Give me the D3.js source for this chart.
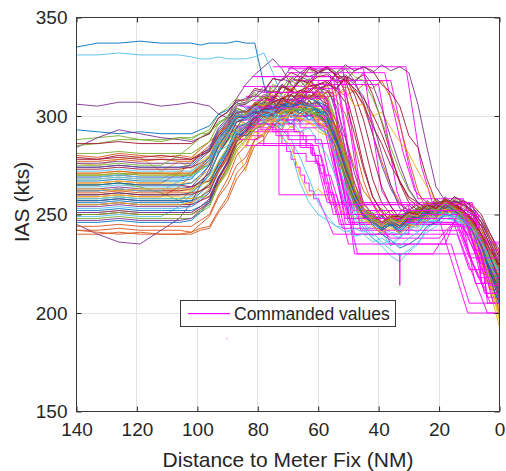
<!DOCTYPE html>
<html>
<head>
<meta charset="utf-8">
<script src="https://cdn.jsdelivr.net/npm/d3@7"></script>
<style>
  body { margin: 0; background: #fff; }
  svg { display: block; }
  text { font-family: "Liberation Sans", Arial, Helvetica, sans-serif; fill: #262626; }
</style>
</head>
<body>
<svg id="chart" width="506" height="471"></svg>
<script>
// Sample distances (NM to meter fix) shared by every recorded flight
const distances = [140,133,126,119,112,106,102,99,96,93,90,87,84,81,78,75,72,69,66,63,60,57,54,51,48,45,42,39,36,33,30,27,24,21,18,15,12,9,6,3,0];

// Recorded IAS (kts) per flight, one value per entry of `distances`
const flights = [
  [335,337,337,338,337,337, 337,336,337,337,337,338,337, 337,316,302,298,305,301,308,300, 303,286,268,255,248,251,246,249, 246,249,252,251,254,255,256,252, 246,236,222,212],
  [280,279,281,280,279,280, 279,283,287,290,298,302,299, 302,306,300,305,301,308,303,307, 300,294,289,274,262,256,249,252, 247,252,249,255,251,257,253,250, 246,238,228,218],
  [276,275,278,279,272,277, 273,277,280,284,287,294,290, 296,299,301,303,304,303,301,298, 292,278,262,253,247,250,243,247, 249,246,252,249,255,252,253,247, 243,232,218,202],
  [306,305,307,307,305,306, 307,306,305,301,299,309,316, 321,325,329,324,316,311,318,314, 316,301,283,266,253,249,246,250, 247,253,249,256,252,258,253,250, 244,237,225,213],
  [288,289,290,288,288,289, 288,291,293,301,304,309,306, 312,307,313,308,316,311,319,313, 309,297,279,263,253,250,253,248, 250,251,253,255,256,257,256,252, 248,242,231,221],
  [331,331,332,331,331,331, 330,329,329,330,329,329,329, 330,332,322,309,303,299,302,295, 293,279,263,251,245,239,241,234, 238,243,249,246,253,249,251,247, 242,231,219,207],
  [273,273,274,273,273,273, 274,276,279,282,290,294,301, 306,303,310,307,313,310,316,314, 315,322,318,305,287,268,256,250, 249,246,252,249,256,253,257,251, 247,240,227,214],
  [293,292,291,292,291,291, 291,293,295,301,303,307,304, 305,307,306,304,305,307,306,303, 301,287,271,257,251,246,249,245, 250,247,254,251,257,253,255,250, 246,238,228,218],
  [277,277,278,277,278,277, 277,280,282,289,292,299,296, 299,304,300,305,301,307,303,306, 303,291,273,259,252,247,250,244, 247,249,251,253,254,253,252,249, 245,236,226,216],
  [268,268,269,268,268,272, 278,284,287,292,294,299,295, 304,299,303,298,306,301,307,300, 297,287,271,259,250,249,245,248, 249,246,252,248,254,250,252,246, 240,227,213,199],
  [284,289,293,291,289,288, 287,289,291,299,302,307,309, 310,315,309,316,312,318,313,316, 307,291,273,259,251,247,250,245, 251,255,250,257,253,259,255,251, 244,233,221,211],
  [285,286,288,288,287,289, 289,291,291,297,299,304,301, 303,305,307,308,307,305,303,300, 297,283,267,255,248,250,245,249, 250,247,253,250,256,251,253,248, 245,238,230,224],
  [272,272,273,272,272,272, 272,275,279,290,296,302,298, 303,297,301,294,302,297,301,295, 291,277,261,251,243,238,234,229, 226,231,235,243,246,250,247,246, 242,234,226,219],
  [279,278,280,279,280,279, 278,281,283,291,296,304,302, 305,310,307,315,312,319,316,322, 324,321,312,295,275,259,252,246, 248,249,251,254,256,257,255,251, 246,236,223,211],
  [274,274,275,274,274,274, 275,279,283,293,298,303,300, 306,301,308,302,309,304,311,306, 303,287,269,257,251,247,243,246, 243,248,245,252,249,255,251,249, 243,232,220,210],
  [266,266,267,266,266,271, 276,281,285,290,293,297,299, 303,305,307,306,308,309,310,311, 309,314,310,313,305,291,277,265, 256,252,255,251,257,253,257,254, 250,242,232,222],
  [262,262,263,262,262,262, 262,265,267,276,282,291,294, 297,301,295,299,294,299,296,300, 294,283,269,257,249,246,242,245, 246,243,250,247,252,249,251,246, 243,234,224,214],
  [269,269,270,269,269,269, 270,274,279,289,294,301,299, 305,302,309,305,311,307,314,310, 317,313,320,316,310,297,281,265, 253,250,250,252,254,255,255,253, 250,244,234,224],
  [270,270,270,271,271,270, 270,273,275,284,290,299,300, 304,306,307,309,310,311,310,307, 300,285,267,255,250,246,249,244, 250,247,254,251,258,254,256,250, 244,233,221,210],
  [264,264,265,264,264,264, 264,267,271,282,289,298,299, 301,305,302,308,304,310,305,308, 304,291,273,259,251,246,242,240, 238,243,241,247,245,250,247,246, 242,236,228,222],
  [265,265,266,265,265,265, 264,266,267,275,281,291,295, 302,299,307,303,311,306,313,309, 306,293,275,261,252,249,245,249, 249,246,253,250,256,253,257,251, 246,236,222,208],
  [267,267,268,267,267,267, 268,273,278,288,294,301,300, 303,305,304,305,307,309,309,307, 305,293,275,259,250,246,242,245, 240,246,244,251,248,254,250,248, 242,232,222,214],
  [259,259,260,259,259,264, 270,275,279,284,288,292,295, 299,303,300,305,302,307,305,309, 312,308,301,285,267,255,249,245, 246,243,249,247,253,250,254,251, 247,240,230,220],
  [251,251,252,251,251,251, 251,254,257,267,275,286,289, 297,292,296,290,295,291,297,292, 290,281,267,256,248,244,240,243, 241,243,245,247,249,250,249,246, 241,230,214,196],
  [263,263,264,263,263,263, 264,269,275,287,293,301,303, 306,311,309,316,313,320,318,322, 324,321,324,318,307,291,275,263, 255,252,256,253,258,254,259,257, 254,248,240,232],
  [265,265,266,264,261,257, 262,267,271,281,287,295,296, 299,300,301,302,303,303,302,300, 298,287,271,258,250,247,243,246, 247,244,250,248,254,251,253,248, 246,240,232,226],
  [255,255,256,255,255,255, 255,258,261,271,279,289,292, 299,296,303,300,305,301,306,302, 300,291,275,261,251,247,243,246, 241,245,246,252,249,254,250,248, 243,236,226,218],
  [257,257,258,257,257,257, 256,259,262,272,279,289,292, 297,302,300,306,304,310,309,313, 316,314,320,318,321,311,297,281, 266,256,252,249,254,251,257,255, 252,246,238,228],
  [260,260,261,260,260,260, 261,265,270,281,288,297,298, 301,303,305,306,306,305,304,302, 300,288,273,259,251,247,243,247, 248,245,252,249,255,251,253,247, 241,230,216,205],
  [242,242,243,242,242,242, 241,243,244,252,259,271,276, 288,291,298,295,304,301,308,303, 304,294,279,263,253,248,244,248, 245,251,249,255,252,257,254,251, 245,236,224,212],
  [271,271,272,271,271,271, 271,275,280,291,295,283,272, 289,295,301,296,302,298,306,301, 298,289,272,259,250,247,243,247, 244,250,248,254,251,255,252,249, 244,236,226,216],
  [254,254,255,254,254,254, 254,257,261,273,281,292,295, 299,304,300,307,303,309,305,307, 300,289,272,259,250,247,243,247, 246,248,251,253,255,255,253,250, 244,234,222,210],
  [258,258,259,258,258,258, 258,262,266,277,284,293,295, 299,301,302,302,303,303,304,303, 300,289,273,259,251,247,244,247, 245,250,248,254,251,255,252,249, 244,236,226,218],
  [249,249,250,249,249,254, 260,266,270,276,283,291,294, 300,297,303,298,302,299,306,305, 304,293,277,261,250,246,243,241, 240,244,243,248,246,251,248,247, 243,236,228,221],
  [250,250,251,250,250,250, 250,253,256,266,274,285,289, 295,300,298,304,301,305,300,302, 296,288,273,261,252,248,244,248, 247,250,252,254,256,256,254,250, 244,233,220,206],
  [256,256,257,256,256,256, 257,261,265,276,284,294,296, 299,300,301,302,302,303,302,300, 296,285,268,257,249,245,240,237, 233,235,238,244,246,250,249,247, 242,234,224,216],
  [240,240,241,240,240,240, 241,245,249,259,265,275,279, 288,290,297,298,303,300,304,299, 296,287,272,260,251,248,244,247, 247,244,251,248,254,250,254,249, 244,235,222,208],
  [266,266,267,266,266,266, 266,269,273,284,291,299,300, 305,299,297,289,285,270,259,263, 258,255,250,249,246,247,244,246, 245,250,249,254,252,256,253,250, 245,238,228,218],
  [245,240,236,235,242,248, 256,265,273,285,291,299,300, 302,307,304,309,306,311,308,310, 304,293,277,261,251,247,243,246, 243,248,247,253,251,255,252,249, 243,234,224,214],
  [248,248,249,248,248,248, 248,251,254,265,273,285,289, 296,298,300,302,303,303,302,300, 296,287,272,259,251,248,244,247, 247,249,251,253,255,255,253,250, 245,238,230,224],
  [268,268,269,268,268,268, 269,273,278,289,295,302,302, 306,301,297,293,288,279,268,256, 249,244,243,239,240,236,238,235, 239,241,247,246,252,249,251,246, 242,236,228,222],
  [262,262,263,262,262,262, 263,267,271,281,288,297,299, 306,306,313,311,319,318,324,322, 325,320,318,323,325,323,316,312, 305,290,284,268,256,252,254,257, 255,250,240,230],
  [252,252,253,252,252,252, 252,254,257,268,276,287,291, 296,301,299,304,299,303,300,303, 298,287,271,258,249,246,242,245, 241,246,246,252,249,255,251,249, 244,236,226,216],
  [242,241,240,241,240,240, 240,242,243,251,257,268,274, 285,288,296,293,302,297,302,296, 294,285,269,257,249,246,242,245, 243,248,247,253,250,254,251,248, 242,232,218,200],
  [270,270,271,270,270,270, 270,273,276,286,292,300,301, 307,305,313,309,315,311,317,313, 315,311,313,305,306,300,302,294, 287,281,272,264,256,252,255,257, 254,248,238,226],
  [276,276,277,276,276,276, 276,280,284,294,299,306,307, 313,312,319,318,325,322,325,323, 325,322,326,323,325,322,326,323, 325,322,306,284,264,257,256,257, 254,248,238,228],
  [281,281,282,281,281,281, 281,284,287,296,300,306,306, 311,309,316,314,320,317,324,320, 325,322,325,320,318,309,298,284, 272,262,256,253,256,254,258,255, 251,244,234,224],
  [262,262,263,262,262,267, 272,276,279,282,285,290,293, 300,302,303,304,304,303,302,301, 301,291,277,263,252,248,245,244, 243,246,244,249,247,251,249,247, 243,235,226,218],
  [286,286,287,286,286,286, 286,289,291,299,302,308,308, 314,313,319,318,322,320,325,322, 325,320,320,313,306,295,286,275, 267,259,256,253,256,254,259,256, 252,246,236,224],
  [246,246,247,246,246,246, 247,251,256,268,277,289,293, 297,302,301,306,304,308,302,304, 301,291,275,260,250,246,242,245, 242,247,249,254,252,256,253,249, 242,232,220,210],
  [244,244,245,244,244,244, 244,247,250,260,268,280,285, 294,295,302,301,307,304,311,308, 313,310,315,312,316,314,318,309, 296,278,262,252,249,251,252,255, 252,246,238,230],
  [259,259,260,259,259,259, 258,259,259,265,271,282,287, 294,297,300,302,304,305,305,304, 302,292,279,263,253,249,245,248, 245,250,249,254,252,255,252,249, 244,236,224,212],
  [251,251,252,251,251,251, 251,254,258,269,277,288,292, 297,303,301,309,306,313,309,314, 313,305,289,271,256,250,246,249, 244,250,249,255,253,257,254,251, 246,238,228,218],
  [270,270,271,270,270,270, 270,273,276,286,292,300,301, 307,307,315,311,318,315,319,314, 311,297,279,263,253,249,245,248, 246,252,251,257,254,258,255,251, 245,236,224,212],
  [258,258,259,258,258,258, 259,264,270,282,289,298,299, 304,303,302,290,282,266,256,250, 247,244,241,243,241,245,243,247, 246,250,249,255,252,255,251,249, 244,236,226,218],
  [255,255,256,255,255,255, 255,257,259,269,276,287,291, 301,304,307,309,311,313,315,316, 317,313,307,291,273,259,251,247, 244,248,249,254,253,257,254,252, 247,240,232,224],
  [257,257,258,257,257,257, 257,259,263,274,283,291,290, 293,297,294,300,296,302,298,301, 295,283,268,256,249,246,249,244, 248,252,248,254,250,256,252,248, 242,230,217,204],
  [271,271,272,271,271,271, 271,274,277,287,293,301,300, 307,304,311,306,314,309,316,312, 308,293,276,262,253,249,246,250, 246,252,250,256,253,258,254,250, 244,234,222,210],
  [263,263,262,263,263,263, 263,265,268,277,284,290,288, 294,296,298,299,300,299,297,294, 290,278,264,254,248,244,241,244, 240,245,244,250,247,253,249,246, 238,226,210,193],
  [247,247,248,247,247,247, 248,252,257,268,276,288,293, 298,302,300,306,303,308,306,307, 301,289,272,259,250,246,243,246, 243,249,247,253,250,255,252,249, 243,234,222,212],
  [275,275,276,275,275,280, 285,289,292,296,299,304,302, 305,306,306,305,304,303,302,300, 296,284,268,256,250,246,243,246, 244,249,247,253,250,254,251,248, 243,236,228,220],
  [253,253,254,253,253,253, 254,258,263,274,282,292,295, 301,298,303,297,301,296,300,294, 291,279,264,253,246,241,236,232, 229,232,236,241,244,248,247,245, 240,232,224,216],
  [278,278,279,278,278,278, 278,280,282,290,295,302,302, 305,309,308,315,313,318,317,320, 321,317,318,314,309,301,291,279, 267,258,254,251,255,253,257,255, 251,244,234,222],
  [265,265,266,265,265,265, 266,270,275,285,292,300,299, 302,303,304,305,305,306,305,303, 299,286,270,258,250,247,243,247, 244,250,248,254,251,256,253,249, 243,233,221,209],
  [261,261,262,261,261,261, 261,262,264,272,278,288,291, 297,302,301,308,306,311,309,312, 306,297,281,266,255,250,246,249, 246,251,250,255,253,257,254,251, 246,238,228,218],
  [255,255,256,255,255,255, 256,259,263,273,279,289,284, 292,290,298,296,303,300,304,297, 294,285,271,259,251,247,244,247, 245,250,249,254,251,256,253,249, 243,232,216,198],
  [274,274,275,274,274,274, 274,278,282,292,297,305,306, 309,313,312,319,317,322,320,322, 322,318,321,317,322,316,304,289, 275,263,256,252,255,253,257,255, 252,246,236,226],
  [250,250,251,250,250,250, 250,252,255,265,272,283,288, 293,296,299,301,303,304,303,301, 300,291,277,263,253,248,245,248, 246,251,250,255,252,256,253,250, 245,238,230,222],
  [269,269,270,269,269,269, 269,272,276,287,293,301,300, 305,300,302,295,298,292,294,287, 280,268,256,248,242,238,235,237, 234,238,241,246,247,251,249,247, 243,236,228,220],
  [260,260,261,260,260,260, 260,262,265,273,280,290,294, 299,304,303,309,308,313,312,316, 318,314,319,311,298,280,264,254, 248,251,250,255,253,258,255,252, 248,240,228,216]
];

// Commanded IAS breakpoints [distance NM, kts]; repeated distances make the steps
const commanded = [
  [[88,295],[80,295],[80,300],[64,300],[64,305],[57,305],[50,250],[14,250],[8,230],[4,215],[0,215]],
  [[84,310],[58,310],[51,245],[13,245],[9,225],[3,205],[0,205]],
  [[86,290],[78,290],[78,285],[60,285],[55,250],[12,250],[12,240],[6,240],[2,220],[0,220]],
  [[72,325],[31,325],[26,275],[22,255],[10,255],[6,225],[0,225]],
  [[82,320],[56,320],[49,250],[10,250],[6,220],[0,220]],
  [[85,315],[70,315],[70,310],[55,310],[48,245],[12,245],[8,215],[0,215]],
  [[73,290],[72,290],[72,286],[70.5,286],[70.5,282],[69,282],[69,278],[67.5,278],[67.5,274],[66,274],[66,270],[64.5,270],[64.5,266],[63,266],[63,262],[61.5,262],[61.5,258],[60,258],[55,240],[14,240],[10,222],[0,222]],
  [[76,300],[73,300],[73,260],[54,260],[50,235],[16,235],[10,205],[0,205]],
  [[80,300],[70,300],[70,296],[68,296],[68,292],[66,292],[66,288],[64,288],[64,284],[62,284],[62,280],[60,280],[60,275],[58,275],[58,270],[56,270],[52,250],[12,250],[12,245],[6,245],[2,225],[0,225]],
  [[86,305],[76,305],[76,315],[62,315],[62,320],[54,320],[47,250],[11,250],[5,210],[0,210]],
  [[78,300],[60,300],[60,295],[54,295],[48,240],[30,240],[30,245],[12,245],[8,230],[0,230]],
  [[83,292],[65,292],[65,288],[59,288],[53,245],[15,245],[9,220],[4,200],[0,200]],
  [[80,320],[55,320],[48,252],[18,252],[12,250],[6,225],[0,225]],
  [[84,302],[72,302],[72,298],[56,298],[50,248],[12,248],[7,228],[3,212],[0,212]],
  [[70,322],[38,322],[32,282],[28,262],[24,256],[10,256],[5,230],[0,230]],
  [[68,318],[36,318],[30,275],[27,258],[12,258],[7,235],[0,235]],
  [[80,305],[58,305],[47,230],[5,230],[5,215],[0,215]],
  [[84,296],[57,296],[51,248],[20,248],[17,232],[10.5,200],[0,200]],
  [[76,312],[55,312],[48,230],[33.1,230],[33,214],[32.9,230],[22,230],[16,244],[8,244],[4,222],[0,222]],
  [[66,290],[64,290],[64,286],[62.5,286],[62.5,281],[61,281],[61,276],[59.5,276],[59.5,271],[58,271],[58,266],[56.5,266],[56.5,261],[55,261],[52,243],[40,243],[36,238],[20,238],[14,248],[8,248],[4,208],[0,208]],
  [[86,288],[80,288],[80,293],[68,293],[68,300],[58,300],[52,256],[20,256],[20,252],[8,252],[6,215],[0,215]],
  [[75,325],[52,325],[45,252],[8,252],[4,220],[0,220]],
  [[82,308],[64,308],[64,314],[53,314],[46,242],[13,242],[7,218],[0,218]],
  [[85,298],[66,298],[66,294],[58,294],[52,255],[30,255],[30,250],[10,250],[6,232],[2,210],[0,210]],
  [[62,316],[40,316],[34,262],[30,246],[14,246],[8,236],[0,236]],
  [[80,286],[62,286],[57,256],[42,256],[36,235],[18,235],[14,250],[7,250],[4,205],[0,205]],
  [[87,294],[74,294],[74,290],[61,290],[61,286],[56,286],[50,246],[14,246],[9,226],[4,210],[0,210]],
  [[83,304],[67,304],[67,309],[57,309],[50,250],[22,250],[18,256],[9,256],[5,222],[0,222]],
  [[86,300],[80,300],[80,296],[75,296],[75,292],[70,292],[70,288],[66,288],[66,284],[62,284],[62,280],[59,280],[54,250],[12,250],[8,232],[0,232]],
  [[78,312],[60,312],[60,318],[52,318],[45,248],[15,248],[10,228],[6,228],[2,205],[0,205]],
  [[84,285],[68,285],[68,281],[64,281],[64,277],[60,277],[56,255],[13,255],[8,238],[3,214],[0,214]],
  [[70,324],[45,324],[39,262],[35,252],[12,252],[7,228],[0,228]],
  [[90.3,187],[90.0,187]]
];

const xTicks = [140,120,100,80,60,40,20,0];
const yTicks = [150,200,250,300,350];
const lineColors = ["#0072BD","#D95319","#EDB120","#7E2F8E","#77AC30","#4DBEEE","#A2142F"];
const commandColor = "#FF00FF";
const legendLabel = "Commanded values";
const xLabel = "Distance to Meter Fix (NM)";
const yLabel = "IAS (kts)";

const svg = d3.select("#chart");
const plotL = 76.5, plotR = 499.5, plotT = 17.5, plotB = 411.5;

const x = d3.scaleLinear().domain([140, 0]).range([plotL, plotR]);
const y = d3.scaleLinear().domain([150, 350]).range([plotB, plotT]);

// grid
const grid = svg.append("g").attr("stroke", "#e2e2e2").attr("stroke-width", 1);
grid.selectAll("line.gx").data(xTicks).join("line").attr("class", "gx")
  .attr("x1", d => Math.round(x(d) - 0.5) + 0.5).attr("x2", d => Math.round(x(d) - 0.5) + 0.5)
  .attr("y1", plotT).attr("y2", plotB);
grid.selectAll("line.gy").data(yTicks).join("line").attr("class", "gy")
  .attr("y1", d => Math.round(y(d) - 0.5) + 0.5).attr("y2", d => Math.round(y(d) - 0.5) + 0.5)
  .attr("x1", plotL).attr("x2", plotR);

svg.append("clipPath").attr("id", "plot-area")
  .append("rect").attr("x", plotL).attr("y", plotT).attr("width", plotR - plotL).attr("height", plotB - plotT);

const plot = svg.append("g").attr("clip-path", "url(#plot-area)").attr("fill", "none");

const flightLine = d3.line()
  .defined(v => v != null)
  .x((v, i) => x(distances[i]))
  .y(v => y(v));
const commandLine = d3.line().x(p => x(p[0])).y(p => y(p[1]));

function drawCommand(track) {
  plot.append("path").attr("d", commandLine(track))
    .style("stroke", commandColor).style("stroke-width", 0.9);
}

// flights and their commanded speeds, drawn interleaved
const perCommand = flights.length / commanded.length;
let c = 0;
flights.forEach((f, i) => {
  plot.append("path").attr("d", flightLine(f))
    .style("stroke", lineColors[i % lineColors.length]).style("stroke-width", 0.9)
    .attr("stroke-linejoin", "round");
  while (c < commanded.length && (c + 1) * perCommand <= i + 1) {
    drawCommand(commanded[c]);
    c++;
  }
});
while (c < commanded.length) { drawCommand(commanded[c]); c++; }

// axes with inward ticks on all four sides
const tickFont = "19px";
const axisStyle = g => {
  g.select(".domain").remove();
  g.selectAll(".tick line").attr("stroke", "#262626");
  g.selectAll(".tick text").style("font-size", tickFont).attr("fill", "#262626");
};
svg.append("g").attr("transform", `translate(0,${plotB})`)
  .call(d3.axisBottom(x).tickValues(xTicks).tickSizeInner(-5).tickSizeOuter(0).tickPadding(11).tickFormat(d3.format("d")))
  .call(axisStyle);
svg.append("g").attr("transform", `translate(0,${plotT})`)
  .call(d3.axisTop(x).tickValues(xTicks).tickSizeInner(-5).tickSizeOuter(0).tickFormat(""))
  .call(axisStyle);
svg.append("g").attr("transform", `translate(${plotL},0)`)
  .call(d3.axisLeft(y).tickValues(yTicks).tickSizeInner(-5).tickSizeOuter(0).tickPadding(9).tickFormat(d3.format("d")))
  .call(axisStyle);
svg.append("g").attr("transform", `translate(${plotR},0)`)
  .call(d3.axisRight(y).tickValues(yTicks).tickSizeInner(-5).tickSizeOuter(0).tickFormat(""))
  .call(axisStyle);

svg.append("rect").attr("x", plotL).attr("y", plotT)
  .attr("width", plotR - plotL).attr("height", plotB - plotT)
  .attr("fill", "none").attr("stroke", "#3a3a3a").attr("stroke-width", 1);

// axis labels
svg.append("text").attr("x", (plotL + plotR) / 2).attr("y", 467)
  .attr("text-anchor", "middle").style("font-size", "21px").text(xLabel);
svg.append("text").attr("transform", "translate(29,202) rotate(-90)")
  .attr("text-anchor", "middle").style("font-size", "21px").text(yLabel);

// legend
const legend = svg.append("g");
legend.append("rect").attr("x", 180.5).attr("y", 300.5).attr("width", 215).attr("height", 26)
  .style("fill", "#fff").style("stroke", "#3a3a3a").style("stroke-width", 1);
legend.append("rect").attr("x", 188).attr("y", 313).attr("width", 42).attr("height", 1.2)
  .style("fill", commandColor).style("stroke", "none");
legend.append("text").attr("x", 234).attr("y", 313.5).attr("dy", "0.35em")
  .style("font-size", "17.5px").text(legendLabel);
</script>
</body>
</html>
